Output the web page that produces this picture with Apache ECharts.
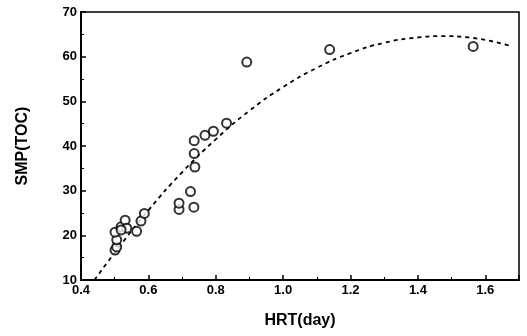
<!DOCTYPE html>
<html>
<head>
<meta charset="utf-8">
<script src="https://cdn.jsdelivr.net/npm/echarts@6/dist/echarts.min.js"></script>
<style>
  html, body { margin: 0; padding: 0; background: #fff; }
  #chart { width: 527px; height: 336px; }
</style>
</head>
<body>
<div id="chart"></div>
<script>
// measured points (HRT in days, SMP as TOC)
const hrt = [0.501, 0.506, 0.506, 0.501, 0.519, 0.531, 0.536, 0.519, 0.565, 0.578, 0.588,
             0.691, 0.691, 0.735, 0.725, 0.738, 0.736, 0.736, 0.768, 0.793, 0.832,
             0.892, 1.138, 1.564];
const smp = [16.7, 17.4, 19.0, 20.7, 21.9, 23.4, 21.6, 21.2, 20.9, 23.2, 24.9,
             25.8, 27.2, 26.3, 29.8, 35.3, 38.3, 41.2, 42.4, 43.3, 45.1,
             58.8, 61.6, 62.3];

// trend curve
const curveX = [0.44, 0.5, 0.6, 0.7, 0.8, 0.9, 1.0, 1.1, 1.2, 1.3, 1.4, 1.47, 1.55, 1.67];
const curveY = [10, 16.1, 25.6, 34.1, 41.5, 47.9, 53.2, 57.5, 60.8, 63.1, 64.3, 64.6, 64.3, 62.5];

const xTicks = { min: 0.4, max: 1.7, interval: 0.2 };
const yTicks = { min: 10, max: 70, interval: 10 };

const chart = echarts.init(document.getElementById('chart'));
const font = 'Liberation Sans, Arial, sans-serif';

const axisCommon = {
  axisLine: { show: true, onZero: false, lineStyle: { color: '#000', width: 2 } },
  axisTick: { show: true, inside: true, length: 5, lineStyle: { color: '#000', width: 1.5 } },
  minorTick: { show: true, splitNumber: 2, length: 3, lineStyle: { color: '#000', width: 1 } },
  splitLine: { show: false },
  axisLabel: { color: '#000', fontFamily: font, fontWeight: 'bold', fontSize: 13 },
  nameTextStyle: { color: '#000', fontFamily: font, fontWeight: 'bold', fontSize: 16 }
};

chart.setOption({
  animation: false,
  backgroundColor: '#fff',
  grid: {
    left: 81, top: 12, right: 8, bottom: 56,
    show: true, borderColor: '#000', borderWidth: 1.5
  },
  xAxis: Object.assign({}, axisCommon, {
    type: 'value',
    min: xTicks.min, max: xTicks.max, interval: xTicks.interval,
    name: 'HRT(day)', nameLocation: 'middle', nameGap: 33,
    axisLabel: Object.assign({}, axisCommon.axisLabel, {
      margin: 4,
      formatter: v => (v > 1.65 ? '' : v.toFixed(1))
    })
  }),
  yAxis: Object.assign({}, axisCommon, {
    type: 'value',
    min: yTicks.min, max: yTicks.max, interval: yTicks.interval,
    name: 'SMP(TOC)', nameLocation: 'middle', nameGap: 50,
    axisLabel: Object.assign({}, axisCommon.axisLabel, { margin: 4 })
  }),
  series: [
    {
      type: 'line',
      data: curveX.map((x, i) => [x, curveY[i]]),
      smooth: true,
      showSymbol: false,
      lineStyle: { color: '#000', width: 1.8, type: [4, 4] },
      z: 1
    },
    {
      type: 'scatter',
      data: hrt.map((x, i) => [x, smp[i]]),
      symbol: 'circle',
      symbolSize: 9,
      itemStyle: { color: '#fff', borderColor: '#000', borderWidth: 2 },
      z: 2
    }
  ]
});
</script>
</body>
</html>
